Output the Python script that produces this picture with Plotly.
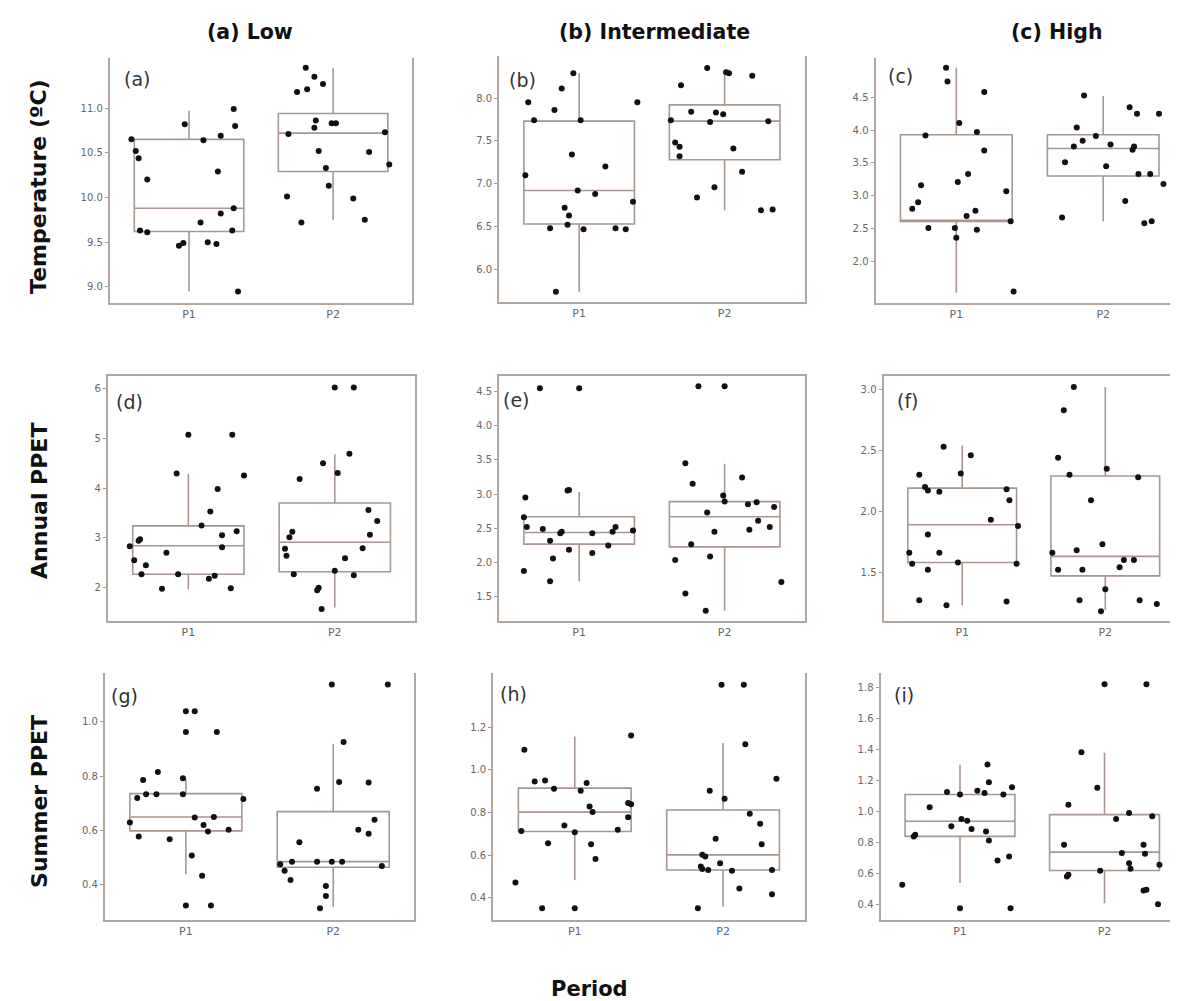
import plotly.graph_objects as go

# ---------------- DATA ----------------
periods = ["P1", "P2"]
col_titles = ["(a) Low", "(b) Intermediate", "(c) High"]
row_titles = ["Temperature (ºC)", "Annual PPET", "Summer PPET"]
panel_labels = ["(a)", "(b)", "(c)", "(d)", "(e)", "(f)", "(g)", "(h)", "(i)"]

# box statistics: [lower whisker, q1, median, q3, upper whisker]
a_p1_box = [8.95, 9.62, 9.88, 10.65, 10.97]
a_p2_box = [9.75, 10.29, 10.72, 10.94, 11.45]
b_p1_box = [5.74, 6.53, 6.92, 7.73, 8.29]
b_p2_box = [6.69, 7.28, 7.73, 7.92, 8.29]
c_p1_box = [1.52, 2.61, 2.62, 3.93, 4.95]
c_p2_box = [2.61, 3.30, 3.72, 3.93, 4.52]
d_p1_box = [1.97, 2.27, 2.84, 3.24, 4.28]
d_p2_box = [1.60, 2.32, 2.91, 3.70, 4.68]
e_p1_box = [1.73, 2.27, 2.44, 2.67, 3.03]
e_p2_box = [1.30, 2.23, 2.67, 2.89, 3.44]
f_p1_box = [1.23, 1.58, 1.89, 2.19, 2.54]
f_p2_box = [1.19, 1.47, 1.63, 2.29, 3.02]
g_p1_box = [0.44, 0.599, 0.650, 0.736, 0.79]
g_p2_box = [0.32, 0.465, 0.486, 0.670, 0.92]
h_p1_box = [0.484, 0.711, 0.802, 0.914, 1.156]
h_p2_box = [0.359, 0.531, 0.602, 0.812, 1.125]
i_p1_box = [0.54, 0.840, 0.937, 1.109, 1.30]
i_p2_box = [0.411, 0.621, 0.739, 0.980, 1.377]

# observed values and horizontal jitter (category units)
a_p1_y = [10.65, 10.52, 10.44, 10.20, 9.63, 9.61, 9.46, 9.49, 10.82, 9.72, 10.64,
          9.50, 9.48, 10.29, 9.82, 10.69, 10.99, 10.80, 9.88, 9.63, 8.95]
a_p1_j = [-0.40, -0.37, -0.35, -0.29, -0.34, -0.29, -0.07, -0.04, -0.03, 0.08, 0.10,
          0.13, 0.19, 0.20, 0.22, 0.22, 0.31, 0.32, 0.31, 0.30, 0.34]
a_p2_y = [11.45, 11.35, 11.27, 11.18, 11.21, 10.86, 10.78, 10.83, 10.83, 10.71,
          10.73, 10.52, 10.51, 10.33, 10.37, 10.13, 10.01, 9.99, 9.72, 9.75]
a_p2_j = [-0.19, -0.13, -0.07, -0.25, -0.18, -0.12, -0.13, -0.01, 0.02, -0.31,
          0.36, -0.10, 0.25, -0.05, 0.39, -0.03, -0.32, 0.14, -0.22, 0.22]

b_p1_y = [8.29, 8.11, 7.95, 7.86, 7.74, 7.74, 7.34, 7.10, 7.20, 6.92, 6.88,
          6.72, 6.63, 6.79, 6.48, 6.52, 6.47, 6.48, 6.47, 7.95, 5.74]
b_p1_j = [-0.04, -0.12, -0.35, -0.17, -0.31, 0.01, -0.05, -0.37, 0.18, -0.01, 0.11,
          -0.10, -0.07, 0.37, -0.20, -0.08, 0.03, 0.25, 0.32, 0.40, -0.16]
b_p2_y = [8.35, 8.30, 8.29, 8.26, 8.15, 7.84, 7.83, 7.81, 7.74, 7.72,
          7.73, 7.48, 7.43, 7.41, 7.32, 7.14, 6.96, 6.84, 6.69, 6.70]
b_p2_j = [-0.12, 0.01, 0.03, 0.19, -0.30, -0.23, -0.06, -0.01, -0.37, -0.10,
          0.30, -0.34, -0.31, 0.06, -0.31, 0.12, -0.07, -0.19, 0.25, 0.33]

c_p1_y = [4.95, 4.74, 4.58, 4.11, 3.92, 3.97, 3.69, 3.33, 3.21, 3.16, 2.90,
          2.80, 3.07, 2.69, 2.77, 2.51, 2.51, 2.48, 2.61, 2.36, 1.54]
c_p1_j = [-0.07, -0.06, 0.19, 0.02, -0.21, 0.14, 0.19, 0.08, 0.01, -0.24, -0.26,
          -0.30, 0.34, 0.07, 0.13, -0.19, -0.01, 0.14, 0.37, 0.00, 0.39]
c_p2_y = [4.53, 4.35, 4.25, 4.25, 4.04, 3.84, 3.91, 3.75, 3.78, 3.75,
          3.70, 3.51, 3.45, 3.33, 3.33, 3.18, 2.92, 2.67, 2.58, 2.61]
c_p2_j = [-0.13, 0.18, 0.23, 0.38, -0.18, -0.14, -0.05, -0.20, 0.05, 0.21,
          0.20, -0.26, 0.02, 0.24, 0.32, 0.41, 0.15, -0.28, 0.28, 0.33]

d_p1_y = [5.07, 5.07, 4.29, 4.25, 3.98, 3.53, 3.25, 3.13, 3.05, 2.97, 2.94,
          2.83, 2.81, 2.70, 2.55, 2.45, 2.27, 2.27, 2.24, 2.18, 1.98, 1.99]
d_p1_j = [0.00, 0.30, -0.08, 0.38, 0.20, 0.15, 0.09, 0.33, 0.23, -0.33, -0.34,
          -0.40, 0.23, -0.15, -0.37, -0.29, -0.32, -0.07, 0.18, 0.14, -0.18, 0.29]
d_p2_y = [6.02, 6.02, 4.69, 4.50, 4.30, 4.18, 3.56, 3.34, 3.12, 3.06, 3.01,
          2.78, 2.64, 2.79, 2.59, 2.34, 2.27, 2.25, 2.00, 1.95, 1.57]
d_p2_j = [0.00, 0.13, 0.10, -0.08, 0.02, -0.24, 0.23, 0.29, -0.29, 0.24, -0.31,
          -0.34, -0.33, 0.19, 0.07, 0.00, -0.28, 0.13, -0.11, -0.12, -0.09]

e_p1_y = [4.54, 4.54, 3.05, 3.06, 2.95, 2.66, 2.52, 2.49, 2.32, 2.43, 2.45,
          2.43, 2.45, 2.52, 2.47, 2.19, 2.14, 2.25, 2.06, 1.88, 1.73]
e_p1_j = [-0.27, 0.00, -0.08, -0.07, -0.37, -0.38, -0.36, -0.25, -0.20, -0.13, -0.12,
          0.09, 0.23, 0.25, 0.37, -0.07, 0.09, 0.20, -0.18, -0.38, -0.20]
e_p2_y = [4.57, 4.57, 3.45, 3.15, 3.24, 2.98, 2.89, 2.73, 2.85, 2.88, 2.81,
          2.61, 2.48, 2.45, 2.52, 2.27, 2.09, 2.04, 1.55, 1.30, 1.72]
e_p2_j = [-0.18, 0.00, -0.27, -0.22, 0.12, -0.01, 0.00, -0.12, 0.16, 0.22, 0.34,
          0.23, 0.17, -0.07, 0.31, -0.23, -0.10, -0.34, -0.27, -0.13, 0.39]

f_p1_y = [2.53, 2.46, 2.31, 2.30, 2.20, 2.17, 2.16, 2.18, 2.09, 1.93, 1.88,
          1.81, 1.66, 1.66, 1.57, 1.58, 1.57, 1.52, 1.27, 1.23, 1.26]
f_p1_j = [-0.13, 0.06, -0.01, -0.30, -0.26, -0.24, -0.16, 0.31, 0.33, 0.20, 0.39,
          -0.24, -0.37, -0.16, -0.35, -0.03, 0.38, -0.24, -0.30, -0.11, 0.31]
f_p2_y = [3.02, 2.83, 2.44, 2.30, 2.35, 2.28, 2.09, 1.73, 1.68, 1.66,
          1.52, 1.52, 1.54, 1.60, 1.60, 1.36, 1.27, 1.27, 1.24, 1.18]
f_p2_j = [-0.22, -0.29, -0.33, -0.25, 0.01, 0.23, -0.10, -0.02, -0.20, -0.37,
          -0.33, -0.16, 0.10, 0.13, 0.20, 0.00, -0.18, 0.24, 0.36, -0.03]

g_p1_y = [1.039, 1.039, 0.963, 0.963, 0.816, 0.786, 0.793, 0.720, 0.734, 0.734,
          0.734, 0.716, 0.630, 0.648, 0.650, 0.621, 0.597, 0.603, 0.578, 0.568,
          0.508, 0.434, 0.324, 0.324]
g_p1_j = [0.00, 0.06, 0.00, 0.21, -0.19, -0.29, -0.02, -0.33, -0.27, -0.20,
          -0.02, 0.39, -0.38, 0.06, 0.19, 0.12, 0.15, 0.29, -0.32, -0.11,
          0.04, 0.11, 0.00, 0.17]
g_p2_y = [1.138, 1.138, 0.926, 0.754, 0.779, 0.777, 0.640, 0.603, 0.588, 0.557,
          0.476, 0.485, 0.485, 0.485, 0.485, 0.470, 0.452, 0.418, 0.396, 0.359, 0.314]
g_p2_j = [-0.01, 0.37, 0.07, -0.11, 0.04, 0.24, 0.28, 0.17, 0.24, -0.23,
          -0.36, -0.28, -0.11, -0.01, 0.06, 0.33, -0.33, -0.29, -0.05, -0.05, -0.09]

h_p1_y = [1.161, 1.094, 0.945, 0.950, 0.911, 0.938, 0.902, 0.828, 0.802, 0.844,
          0.839, 0.778, 0.714, 0.739, 0.708, 0.719, 0.656, 0.652, 0.583, 0.473,
          0.352, 0.352]
h_p1_j = [0.38, -0.34, -0.27, -0.20, -0.14, 0.08, 0.04, 0.10, 0.12, 0.36,
          0.38, 0.36, -0.36, -0.07, 0.00, 0.29, -0.18, 0.11, 0.14, -0.40,
          -0.22, 0.00]
h_p2_y = [1.398, 1.398, 1.120, 0.958, 0.902, 0.864, 0.794, 0.747, 0.677, 0.652,
          0.602, 0.594, 0.563, 0.547, 0.536, 0.531, 0.527, 0.531, 0.445, 0.417, 0.352]
h_p2_j = [-0.01, 0.14, 0.15, 0.36, -0.09, 0.01, 0.18, 0.25, -0.05, 0.26,
          -0.14, -0.12, -0.02, -0.15, -0.14, -0.10, 0.06, 0.33, 0.11, 0.33, -0.17]

i_p1_y = [1.302, 1.188, 1.156, 1.126, 1.134, 1.119, 1.109, 1.109, 1.027, 0.952,
          0.941, 0.905, 0.887, 0.872, 0.851, 0.840, 0.814, 0.711, 0.686, 0.529,
          0.378, 0.378]
i_p1_j = [0.19, 0.20, 0.36, -0.09, 0.12, 0.17, 0.00, 0.30, -0.21, 0.01,
          0.05, -0.06, 0.08, 0.18, -0.31, -0.32, 0.20, 0.34, 0.26, -0.40,
          0.00, 0.35]
i_p2_y = [1.817, 1.817, 1.381, 1.152, 1.044, 0.990, 0.969, 0.952, 0.787, 0.733,
          0.728, 0.787, 0.668, 0.619, 0.632, 0.658, 0.593, 0.582, 0.497, 0.492, 0.404]
i_p2_j = [0.00, 0.29, -0.16, -0.05, -0.25, 0.17, 0.33, 0.08, 0.27, 0.12,
          0.28, -0.28, 0.17, -0.03, 0.18, 0.38, -0.25, -0.26, 0.29, 0.27, 0.37]

# axis settings per panel
y_ranges = [[8.82, 11.56], [5.62, 8.49], [1.365, 5.10],
            [1.33, 6.25], [1.15, 4.72], [1.10, 3.11],
            [0.271, 1.18], [0.297, 1.453], [0.303, 1.89]]
y_ticks = [[9.0, 9.5, 10.0, 10.5, 11.0], [6.0, 6.5, 7.0, 7.5, 8.0],
           [2.0, 2.5, 3.0, 3.5, 4.0, 4.5],
           [2, 3, 4, 5, 6], [1.5, 2.0, 2.5, 3.0, 3.5, 4.0, 4.5], [1.5, 2.0, 2.5, 3.0],
           [0.4, 0.6, 0.8, 1.0], [0.4, 0.6, 0.8, 1.0, 1.2],
           [0.4, 0.6, 0.8, 1.0, 1.2, 1.4, 1.6, 1.8]]
y_fmt = [".1f", ".1f", ".1f", "d", ".1f", ".1f", ".1f", ".1f", ".1f"]

panels = [
    (a_p1_box, a_p2_box, a_p1_y, a_p1_j, a_p2_y, a_p2_j),
    (b_p1_box, b_p2_box, b_p1_y, b_p1_j, b_p2_y, b_p2_j),
    (c_p1_box, c_p2_box, c_p1_y, c_p1_j, c_p2_y, c_p2_j),
    (d_p1_box, d_p2_box, d_p1_y, d_p1_j, d_p2_y, d_p2_j),
    (e_p1_box, e_p2_box, e_p1_y, e_p1_j, e_p2_y, e_p2_j),
    (f_p1_box, f_p2_box, f_p1_y, f_p1_j, f_p2_y, f_p2_j),
    (g_p1_box, g_p2_box, g_p1_y, g_p1_j, g_p2_y, g_p2_j),
    (h_p1_box, h_p2_box, h_p1_y, h_p1_j, h_p2_y, h_p2_j),
    (i_p1_box, i_p2_box, i_p1_y, i_p1_j, i_p2_y, i_p2_j),
]

# ---------------- LAYOUT (pixels) ----------------
W, H = 1178, 1001
px_x = [(102, 405), (492, 798), (869, 1178),
        (100, 408), (492, 798), (877, 1178),
        (97, 407), (486, 798), (874, 1178)]
px_y = [(50, 295), (48, 294), (50, 295),
        (368, 613), (368, 613), (368, 613),
        (665, 912), (665, 912), (665, 912)]
label_px = [(114, 71), (500, 72), (879, 68),
            (106, 394), (494, 392), (889, 393),
            (101, 688), (491, 686), (886, 687)]

FONT = "DejaVu Sans"
LINE = "#b3a7a0"
BOXLINE = "#a8968f"
xs = [1, 2]

fig = go.Figure()
for k, (b1, b2, y1, j1, y2, j2) in enumerate(panels):
    ax = "" if k == 0 else str(k + 1)
    for xpos, st in zip(xs, [b1, b2]):
        fig.add_trace(go.Box(
            x=[xpos], lowerfence=[st[0]], q1=[st[1]], median=[st[2]],
            q3=[st[3]], upperfence=[st[4]], width=0.76, whiskerwidth=0,
            fillcolor="rgba(255,255,255,0)", line=dict(color=BOXLINE, width=1.6),
            boxpoints=False, showlegend=False, hoverinfo="skip",
            xaxis="x" + ax, yaxis="y" + ax))
    for xpos, yy, jj in [(xs[0], y1, j1), (xs[1], y2, j2)]:
        fig.add_trace(go.Scatter(
            x=[xpos + d for d in jj], y=yy, mode="markers",
            marker=dict(color="#111111", size=6),
            showlegend=False, hoverinfo="skip",
            xaxis="x" + ax, yaxis="y" + ax))

    row = k // 3
    x0, x1 = px_x[k]
    y0, y1p = px_y[k]
    top_line = (row == 1)
    fig.layout["xaxis" + ax] = dict(
        domain=[x0 / W, min(x1 / W, 1.0)], anchor="y" + ax,
        range=[0.45, 2.55], tickvals=xs, ticktext=periods,
        showline=True, linecolor=LINE, linewidth=2,
        mirror=top_line, ticks="", showgrid=False, zeroline=False,
        tickfont=dict(family=FONT, size=11, color="#666666"), fixedrange=True)
    fig.layout["yaxis" + ax] = dict(
        domain=[1 - y1p / H, 1 - y0 / H], anchor="x" + ax,
        range=y_ranges[k], tickvals=y_ticks[k], tickformat=y_fmt[k],
        showline=True, linecolor=LINE, linewidth=2, mirror=True,
        ticks="outside", ticklen=3, tickcolor="#999999",
        showgrid=False, zeroline=False,
        tickfont=dict(family=FONT, size=10, color="#666666"), fixedrange=True)

annotations = []
for k, (lx, ly) in enumerate(label_px):
    annotations.append(dict(x=lx / W, y=1 - ly / H, xref="paper", yref="paper",
                            text=panel_labels[k], showarrow=False, xanchor="left",
                            yanchor="middle",
                            font=dict(family=FONT, size=19, color="#333333")))
for t, cx in zip(col_titles, [242, 648, 1050]):
    annotations.append(dict(x=cx / W, y=1 - 24 / H, xref="paper", yref="paper",
                            text="<b>" + t + "</b>", showarrow=False,
                            xanchor="center", yanchor="middle",
                            font=dict(family=FONT, size=20.5, color="#111111")))
for t, cy in zip(row_titles, [178, 493, 793]):
    annotations.append(dict(x=31 / W, y=1 - cy / H, xref="paper", yref="paper",
                            text="<b>" + t + "</b>", showarrow=False, textangle=-90,
                            xanchor="center", yanchor="middle",
                            font=dict(family=FONT, size=22, color="#111111")))
annotations.append(dict(x=582 / W, y=1 - 981 / H, xref="paper", yref="paper",
                        text="<b>Period</b>", showarrow=False,
                        xanchor="center", yanchor="middle",
                        font=dict(family=FONT, size=21, color="#111111")))

fig.update_layout(width=W, height=H, margin=dict(l=0, r=0, t=0, b=0),
                  paper_bgcolor="white", plot_bgcolor="white",
                  annotations=annotations, showlegend=False)

fig.write_html("out.html")
